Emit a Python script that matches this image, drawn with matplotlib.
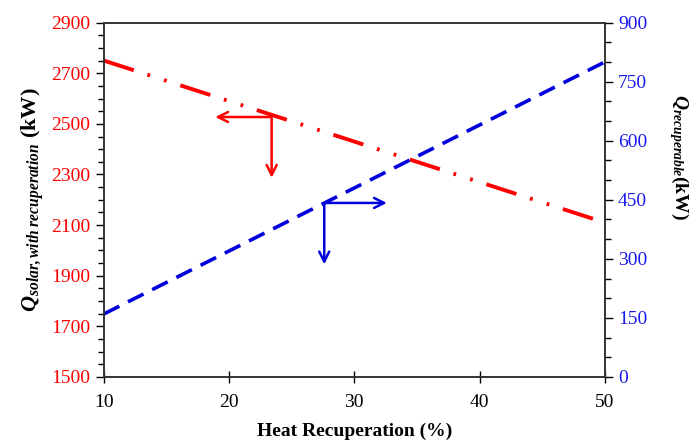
import numpy as np
import matplotlib.pyplot as plt
from matplotlib.ticker import MultipleLocator, FixedLocator

plt.rcParams['font.family'] = 'Liberation Serif'
plt.rcParams['mathtext.fontset'] = 'custom'
plt.rcParams['mathtext.rm'] = 'Liberation Serif'
plt.rcParams['mathtext.it'] = 'Liberation Serif:italic'
plt.rcParams['mathtext.bf'] = 'Liberation Serif:bold'
plt.rcParams['mathtext.bfit'] = 'Liberation Serif:italic:bold'
plt.rcParams['lines.scale_dashes'] = False

# ---- data ----
recup = [10, 20, 30, 40, 50]
q_solar = [2750, 2590, 2430, 2270, 2110]
q_recup = [160, 320, 480, 640, 800]

left_ticks = [1500, 1700, 1900, 2100, 2300, 2500, 2700, 2900]
right_ticks = [0, 150, 300, 450, 600, 750, 900]

# arrow corner / tips (x, y) in data units of each axis
red_corner = (23.4, 2527)
red_left_tip = (18.9, 2527)
red_down_tip = (23.4, 2287)
blue_corner = (27.6, 442)
blue_right_tip = (32.6, 442)
blue_down_tip = (27.6, 286)

fig = plt.figure(figsize=(6.92, 4.43), dpi=100)
ax = fig.add_axes([0.150, 0.149, 0.724, 0.800])
ax2 = ax.twinx()

ax.plot(recup, q_solar, color='red', lw=2.8,
        dashes=(22.7, 10.3, 2, 10.6, 2, 10.3), dash_capstyle='butt')
ax2.plot(recup, q_recup, color='#0000dd', lw=2.6,
         dashes=(12.5, 7.0), dash_capstyle='butt')

ax.set_xlim(10, 50)
ax.set_ylim(1500, 2900)
ax2.set_ylim(0, 900)
ax.xaxis.set_major_locator(MultipleLocator(10))
ax.yaxis.set_major_locator(FixedLocator(left_ticks))
ax.yaxis.set_minor_locator(MultipleLocator(50))
ax2.yaxis.set_major_locator(FixedLocator(right_ticks))
ax2.yaxis.set_minor_locator(MultipleLocator(50))

ax.tick_params(axis='x', direction='inout', length=8, width=1, labelsize=14, pad=8)
ax.tick_params(axis='y', which='major', direction='out', length=6, width=1,
               labelsize=14, labelcolor='red')
ax.tick_params(axis='y', which='minor', direction='out', length=4, width=1)
ax2.tick_params(axis='y', which='major', direction='out', length=6, width=1,
                labelsize=14, labelcolor='#1a1aee')
ax2.tick_params(axis='y', which='minor', direction='out', length=4, width=1)

for a in (ax, ax2):
    for s in a.spines.values():
        s.set_color('#333333')
        s.set_linewidth(1.2)

ax.set_xlabel('Heat Recuperation (%)', fontsize=14, fontweight='bold', labelpad=9)
ax.set_ylabel(r'$\mathbfit{Q}_{\mathbfit{solar,with\ recuperation}}$ (kW)',
              fontsize=16, fontweight='bold', labelpad=4)
ax2.set_ylabel(r'$\mathbfit{Q}_{\mathbfit{recuperable}}$(kW)',
               fontsize=14, fontweight='bold', rotation=270)
ax2.yaxis.set_label_coords(1.172, 0.62)

arr_red = dict(arrowstyle='->', color='red', lw=1.8, mutation_scale=18,
               shrinkA=0, shrinkB=0)
ax.annotate('', xy=red_left_tip, xytext=red_corner, arrowprops=arr_red)
ax.annotate('', xy=red_down_tip, xytext=red_corner, arrowprops=arr_red)
arr_blue = dict(arrowstyle='->', color='#0000dd', lw=1.8, mutation_scale=18,
                shrinkA=0, shrinkB=0)
ax2.annotate('', xy=blue_right_tip, xytext=blue_corner, arrowprops=arr_blue)
ax2.annotate('', xy=blue_down_tip, xytext=blue_corner, arrowprops=arr_blue)

fig.savefig('out.png', dpi=100)
